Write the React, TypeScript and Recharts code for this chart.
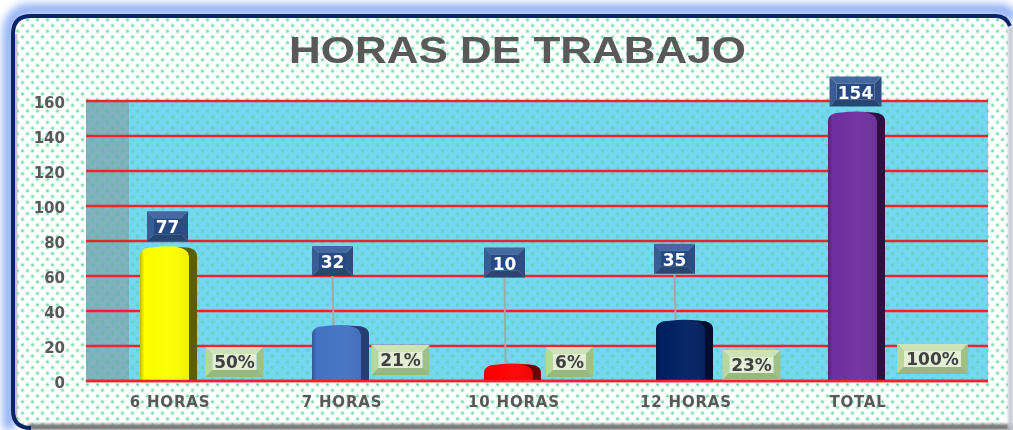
import { Bar, BarChart, CartesianGrid, Cell, LabelList, XAxis, YAxis } from "recharts";

const categories = ["6 HORAS", "7 HORAS", "10 HORAS", "12 HORAS", "TOTAL"];
const hours = [77, 32, 10, 35, 154];
const shares = [0.5, 0.21, 0.06, 0.23, 1];
const shareLabels = ["50%", "21%", "6%", "23%", "100%"];
const barColors = ["#ffff00", "#4472c4", "#ff0000", "#002060", "#7030a0"];
const barSides = ["#5c5c00", "#243f70", "#700000", "#000f30", "#2d1040"];
const yTicks = [0, 20, 40, 60, 80, 100, 120, 140, 160];

// hand placed labels, like in the original sheet
const hourLabelLift = [20, 64, 101, 61, 20];
const hourLabelShift = [-1, -8, -8, -10, -1];
const shareLabelShift = [9, 3, 0, 10, 19];
const shareLabelCenter = [362, 360, 362, 365, 359];

const tableData = categories.map((name, i) => ({
  name,
  hours: hours[i],
  share: shares[i],
}));

const FONT = "'DejaVu Sans', sans-serif";

function RoundBar(props: any) {
  const { x, y, width, height, index } = props;
  const rx = 14;
  const ry = Math.min(10, height);
  const body = `M${x},${y + height} V${y + ry} Q${x},${y + 1} ${x + rx},${y + 1} Q${x + width / 2},${y - 1} ${x + width - rx},${y + 1} Q${x + width},${y + 1} ${x + width},${y + ry} V${y + height} Z`;
  const sideX = x + width - 8;
  return (
    <g>
      <path d={body} fill={barColors[index]} />
      <path d={body} fill="url(#barShade)" />
      <path
        d={`M${sideX},${y + height} V${y + ry} Q${sideX - 1},${y + 2} ${x + width - 20},${y + 1} H${x + width - rx} Q${x + width},${y + 1} ${x + width},${y + ry} V${y + height} Z`}
        fill={barSides[index]}
      />
    </g>
  );
}

function BevelBox({ cx, cy, w, h, colors }: any) {
  const l = cx - w / 2;
  const t = cy - h / 2;
  const r = cx + w / 2;
  const b = cy + h / 2;
  const d = 7;
  return (
    <g>
      <polygon points={`${l},${t} ${r},${t} ${r - d},${t + d} ${l + d},${t + d}`} fill={colors.top} />
      <polygon points={`${l},${t} ${l + d},${t + d} ${l + d},${b - d} ${l},${b}`} fill={colors.left} />
      <polygon points={`${r},${t} ${r - d},${t + d} ${r - d},${b - d} ${r},${b}`} fill={colors.right} />
      <polygon points={`${l},${b} ${l + d},${b - d} ${r - d},${b - d} ${r},${b}`} fill={colors.bottom} />
      <rect x={l + d} y={t + d} width={w - d * 2} height={h - d * 2} fill={colors.face} />
    </g>
  );
}

const blueBevel = { top: "#44689f", left: "#395c94", right: "#2d4d80", bottom: "#284672", face: "#284a82" };
const greenBevel = { top: "#cde3b5", left: "#b9d69d", right: "#a0c085", bottom: "#97b97d", face: "#e3efd4" };

function HourLabel(props: any) {
  const { x, y, width, index, value } = props;
  const cx = x + width / 2 + hourLabelShift[index];
  const cy = y - hourLabelLift[index];
  const w = value > 99 ? 52 : 41;
  return (
    <g>
      {hourLabelLift[index] > 30 && (
        <line x1={cx} x2={cx + 1} y1={cy + 15} y2={y} stroke="#a6a6a6" strokeWidth={2} />
      )}
      <BevelBox cx={cx} cy={cy} w={w} h={30} colors={blueBevel} />
      <text x={cx} y={cy + 7} textAnchor="middle" fontFamily={FONT} fontWeight="bold" fontSize={17} fill="#fff">
        {value}
      </text>
    </g>
  );
}

function ShareLabel(props: any) {
  const { x, width, index } = props;
  const text = shareLabels[index];
  const cx = x + width / 2 + shareLabelShift[index];
  const cy = shareLabelCenter[index];
  const w = text.length > 3 ? 71 : text.length > 2 ? 58 : 47;
  return (
    <g>
      <BevelBox cx={cx} cy={cy} w={w} h={30} colors={greenBevel} />
      <text x={cx} y={cy + 6} textAnchor="middle" fontFamily={FONT} fontWeight="bold" fontSize={17} fill="#404040">
        {text}
      </text>
    </g>
  );
}

function CategoryTick(props: any) {
  const { x, y, payload } = props;
  return (
    <text x={x - 27} y={y + 18} textAnchor="middle" fontFamily={FONT} fontWeight="bold" fontSize={15} letterSpacing={0.8} fill="#595959">
      {payload.value}
    </text>
  );
}

function dots(id: string, base: string, halo: string, dot: string) {
  return (
    <pattern id={id} width={10} height={11.4} patternUnits="userSpaceOnUse">
      <rect width={10} height={11.4} fill={base} />
      <circle cx={2.5} cy={2.8} r={2.5} fill={halo} />
      <circle cx={7.5} cy={8.5} r={2.5} fill={halo} />
      <circle cx={2.5} cy={2.8} r={1.3} fill={dot} />
      <circle cx={7.5} cy={8.5} r={1.3} fill={dot} />
    </pattern>
  );
}

function Backdrop() {
  return (
    <svg width={1013} height={430} style={{ position: "absolute", left: 0, top: 0 }}>
      <defs>
        {dots("paperDots", "#ffffff", "#e4f9ef", "#6fdca6")}
        {dots("plotDots", "#74d8f2", "#70d7e6", "#62d0c0")}
        {dots("wallDots", "#7fb1bf", "#7ab2ba", "#68b5a8")}
        <filter id="glow" x="-5%" y="-10%" width="110%" height="120%">
          <feGaussianBlur stdDeviation="4" />
        </filter>
        <filter id="soft" x="-5%" y="-100%" width="110%" height="300%">
          <feGaussianBlur stdDeviation="1.5" />
        </filter>
      </defs>
      <path d="M9,430 V34 Q9,10 31,10 H1000 Q1009,10 1013,20" fill="none" stroke="#8fb0f5" strokeWidth={12} filter="url(#glow)" />
      <rect x={13} y={16} width={995} height={412} rx={18} fill="url(#paperDots)" />
      <rect x={28} y={424} width={985} height={6} fill="#777" filter="url(#soft)" />
      <rect x={1008} y={26} width={5} height={404} fill="#c4c9d6" filter="url(#soft)" />
      <path d="M16,34 V420" stroke="#c4c4c4" strokeWidth={3} fill="none" />
      <path d="M13,400 V34 Q13,16 31,16 H996 Q1006,16 1010,26" fill="none" stroke="#0a2468" strokeWidth={4} />
      <path d="M13,400 V410 Q13,428 31,428" fill="none" stroke="#0a2468" strokeWidth={4} />
      <rect x={86} y={101} width={902} height={280} fill="url(#plotDots)" />
      <rect x={86} y={101} width={43} height={280} fill="url(#wallDots)" />
      <text x={289} y={62.5} textLength={457} lengthAdjust="spacingAndGlyphs" fontFamily="'Liberation Sans', Arial, sans-serif" fontWeight="bold" fontSize={36} fill="#595959">
        HORAS DE TRABAJO
      </text>
    </svg>
  );
}

export default function App() {
  return (
    <div style={{ position: "fixed", left: 0, top: 0, width: 1013, height: 430, background: "#fff", overflow: "hidden", filter: "blur(0.4px)" }}>
      <Backdrop />
      <BarChart
        width={1013}
        height={430}
        data={tableData}
        barSize={57}
        barGap={0}
        margin={{ top: 101, right: 25, bottom: 19, left: 0 }}
        style={{ position: "absolute", left: 0, top: 0 }}
      >
        <defs>
          <linearGradient id="barShade" x1="0" x2="1" y1="0" y2="0">
            <stop offset="0" stopColor="#000" stopOpacity={0.25} />
            <stop offset="0.08" stopColor="#000" stopOpacity={0} />
            <stop offset="0.45" stopColor="#fff" stopOpacity={0.03} />
            <stop offset="1" stopColor="#000" stopOpacity={0.1} />
          </linearGradient>
        </defs>
        <CartesianGrid vertical={false} stroke="#f2222c" strokeWidth={2.5} />
        <XAxis
          dataKey="name"
          height={30}
          axisLine={{ stroke: "#f2222c", strokeWidth: 2.5 }}
          tickLine={false}
          tick={<CategoryTick />}
          interval={0}
          padding={{ left: 25, right: 17 }}
        />
        <YAxis
          width={86}
          domain={[0, 160]}
          ticks={yTicks}
          interval={0}
          axisLine={false}
          tickLine={false}
          tickSize={0}
          tickMargin={21}
          tick={{ fontFamily: FONT, fontWeight: "bold", fontSize: 15, fill: "#595959", dy: 2 }}
        />
        <Bar dataKey="hours" shape={<RoundBar />} isAnimationActive={false}>
          {barColors.map((c) => (
            <Cell key={c} fill={c} />
          ))}
          <LabelList dataKey="hours" content={<HourLabel />} />
        </Bar>
        <Bar dataKey="share" fill="#ed7d31" isAnimationActive={false}>
          <LabelList dataKey="share" content={<ShareLabel />} />
        </Bar>
      </BarChart>
    </div>
  );
}
